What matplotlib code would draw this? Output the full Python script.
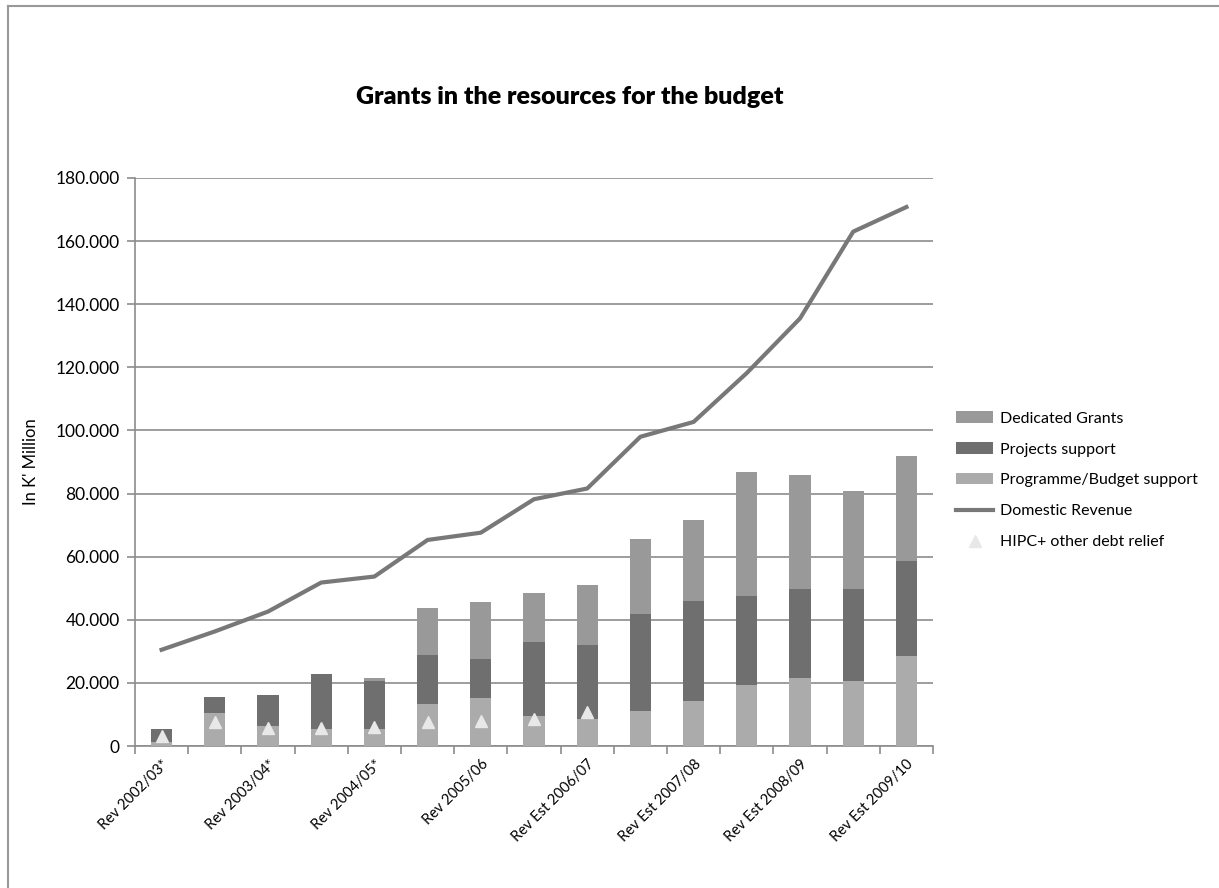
import matplotlib
matplotlib.use("Agg")
import matplotlib.pyplot as plt
from matplotlib.lines import Line2D
from matplotlib.ticker import FuncFormatter, FixedLocator
import numpy as np

plt.rcParams['font.family'] = ['Lato', 'DejaVu Sans']

# data (in K' Million)
categories = ['Rev 2002/03*', '', 'Rev 2003/04*', '', 'Rev 2004/05*', '',
              'Rev 2005/06', '', 'Rev Est 2006/07', '', 'Rev Est 2007/08', '',
              'Rev Est 2008/09', '', 'Rev Est 2009/10']
programme_support = [1200, 10500, 6300, 5300, 5300, 13200, 15100, 9500,
                     8700, 11100, 14300, 19200, 21500, 20700, 28500]
projects_support = [4100, 5000, 9800, 17600, 15300, 15500, 12500, 23400,
                    23300, 30600, 31500, 28200, 28200, 29000, 30100]
dedicated_grants = [0, 0, 0, 0, 1100, 15000, 18000, 15500,
                    19100, 23800, 25700, 39300, 36200, 31100, 33300]
domestic_revenue = [30500, 36300, 42600, 51800, 53700, 65300, 67600, 78200,
                    81600, 98000, 102700, 118200, 135500, 163000, 170800]
hipc_relief = [3200, 7600, 5800, 5800, 6000, 7600, 7900, 8700, 10800]

C_DED = '#999999'
C_PROJ = '#6f6f6f'
C_PROG = '#ababab'
C_LINE = '#787878'
C_GRID = '#8c8c8c'

fig = plt.figure(figsize=(12.19, 8.88), dpi=100)
ax = fig.add_axes([135 / 1219, 142 / 888, 798 / 1219, 568 / 888])

x = np.arange(len(categories))
w = 0.40
prog = np.array(programme_support)
proj = np.array(projects_support)
ded = np.array(dedicated_grants)

b_prog = ax.bar(x, prog, w, color=C_PROG, zorder=3)
b_proj = ax.bar(x, proj, w, bottom=prog, color=C_PROJ, zorder=3)
b_ded = ax.bar(x, ded, w, bottom=prog + proj, color=C_DED, zorder=3)
l_rev, = ax.plot(x, domestic_revenue, color=C_LINE, lw=3, zorder=4,
                 solid_joinstyle='round')
l_hipc, = ax.plot(x[:len(hipc_relief)], hipc_relief, ls='none', marker='^',
                  ms=9, color='#e8e8e8', mec='#e8e8e8', zorder=5)

ax.set_xlim(-0.5, len(categories) - 0.5)
ax.set_ylim(0, 180000)
ax.yaxis.set_major_locator(FixedLocator(np.arange(0, 180001, 20000)))
ax.yaxis.set_major_formatter(FuncFormatter(
    lambda v, p: f"{int(v):,}".replace(",", ".")))
ax.grid(axis='y', color=C_GRID, lw=1.2, zorder=0)

ax.set_xticks(x)
ax.set_xticklabels(categories, rotation=45, ha='right', va='top',
                   rotation_mode='anchor', fontsize=10.5)
ax.tick_params(axis='x', which='major', length=0, pad=8)
ax.set_xticks(np.arange(-0.5, len(categories), 1), minor=True)
ax.tick_params(axis='x', which='minor', length=6, color=C_GRID, width=1.2)
ax.tick_params(axis='y', length=6, color=C_GRID, width=1.2, labelsize=12.5,
               pad=5)

for s in ['top', 'right']:
    ax.spines[s].set_visible(False)
for s in ['left', 'bottom']:
    ax.spines[s].set_color(C_GRID)
    ax.spines[s].set_linewidth(1.2)

ax.set_ylabel("In K' Million", fontsize=12, labelpad=12)

fig.text(570 / 1219, 1 - 97 / 888, 'Grants in the resources for the budget',
         ha='center', va='center', fontsize=18, fontweight='heavy')

handles = [b_ded, b_proj, b_prog, l_rev, l_hipc]
labels = ['Dedicated Grants', 'Projects support', 'Programme/Budget support',
          'Domestic Revenue', 'HIPC+ other debt relief']
fig.legend(handles, labels, loc='upper left',
           bbox_to_anchor=(942 / 1219, 1 - 397 / 888), frameon=False,
           fontsize=11.5, handlelength=2.3, labelspacing=1.05,
           handletextpad=0.4)

# chart area border (left and top)
fig.add_artist(Line2D([8 / 1219, 8 / 1219], [0, 1 - 6 / 888],
                      transform=fig.transFigure, color='#999999', lw=1.5))
fig.add_artist(Line2D([8 / 1219, 1], [1 - 6 / 888, 1 - 6 / 888],
                      transform=fig.transFigure, color='#999999', lw=1.5))

fig.savefig('out.png', dpi=100)
